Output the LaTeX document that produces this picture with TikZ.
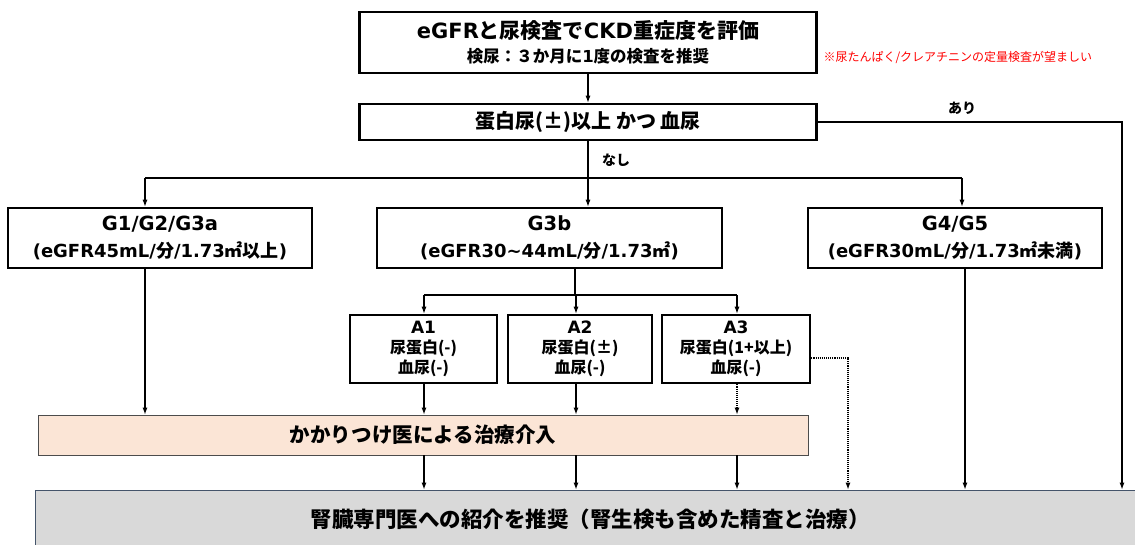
\documentclass[tikz,border=0pt]{standalone}
\usepackage{fontspec}
\setmainfont{Noto Sans CJK JP}
\newfontfamily\lt{DejaVu Sans}
\usetikzlibrary{arrows.meta}
\definecolor{peach}{HTML}{FBE5D6}
\definecolor{lgrey}{HTML}{D9D9D9}
\definecolor{bordgrey}{HTML}{44546A}
\begin{document}
\begin{tikzpicture}[x=1pt,y=-1pt,
  box/.style={draw, line width=2.6pt, align=center, inner sep=0pt},
  arr/.style={-{Latex[length=7pt,width=5pt]}, line width=1.1pt},
  ln/.style={line width=1.1pt},
  dotarr/.style={arr, densely dotted}]
\useasboundingbox (0,0) rectangle (1135,544);
% boxes
\node[box, minimum width=457pt, minimum height=61pt, font=\fontsize{16.5}{24}\selectfont\bfseries] (top) at (588,42.5)
  {{\fontsize{21}{24}\selectfont {\lt eGFR}と尿検査で{\lt CKD}重症度を評価}\\
   検尿：３か月に{\lt 1}度の検査を推奨};
\node[text=red, font=\fontsize{12}{14}\selectfont, anchor=west] (note) at (820,57)
  {※尿たんぱく/クレアチニンの定量検査が望ましい};
\node[box, minimum width=457pt, minimum height=36pt] (b2) at (588,122)
  {\fontsize{20}{24}\selectfont\bfseries 蛋白尿(±)以上 かつ 血尿};
\node[box, minimum width=304pt, minimum height=60pt, font=\fontsize{18}{27}\selectfont\bfseries] (g1) at (160,238)
  {{\lt\fontsize{19.5}{27}\selectfont G1/G2/G3a}\\
   {\lt (eGFR45mL/}分{\lt /1.73}㎡以上{\lt )}};
\node[box, minimum width=345pt, minimum height=60pt, font=\fontsize{18}{27}\selectfont\bfseries] (g3b) at (549.5,238)
  {{\lt\fontsize{19.5}{27}\selectfont G3b}\\
   {\lt (eGFR30\char"223C\relax 44mL/}分{\lt /1.73}㎡{\lt )}};
\node[box, minimum width=294pt, minimum height=60pt, font=\fontsize{18}{27}\selectfont\bfseries] (g4) at (955,238)
  {{\lt\fontsize{19.5}{27}\selectfont G4/G5}\\
   {\lt (eGFR30mL/}分{\lt /1.73}㎡未満{\lt )}};
\node[box, minimum width=147pt, minimum height=68pt, font=\fontsize{16}{20}\selectfont\bfseries] (a1) at (423.5,349)
  {{\lt\fontsize{17}{20}\selectfont A1}\\ 尿蛋白(-)\\ 血尿(-)};
\node[box, minimum width=144pt, minimum height=68pt, font=\fontsize{16}{20}\selectfont\bfseries] (a2) at (580,349)
  {{\lt\fontsize{17}{20}\selectfont A2}\\ 尿蛋白(±)\\ 血尿(-)};
\node[box, minimum width=148pt, minimum height=68pt, font=\fontsize{16}{20}\selectfont\bfseries] (a3) at (736,349)
  {{\lt\fontsize{17}{20}\selectfont A3}\\ 尿蛋白(1+以上)\\ 血尿(-)};
\node[draw=black!70, fill=peach, line width=0.8pt, minimum width=770pt, minimum height=40pt, inner sep=0pt] (kk) at (423,435)
  {\fontsize{20.5}{24}\selectfont\bfseries かかりつけ医による治療介入};
\node[draw=bordgrey, fill=lgrey, line width=0.8pt, minimum width=1110pt, minimum height=58pt, inner sep=0pt] (bot) at (590,519)
  {\fontsize{21.5}{26}\selectfont\bfseries 腎臓専門医への紹介を推奨（腎生検も含めた精査と治療）};
% labels
\node[font=\fontsize{14}{16}\selectfont\bfseries] (ari) at (962,108) {あり};
\node[font=\fontsize{14}{16}\selectfont\bfseries] (nashi) at (616,160) {なし};
% coordinates
\coordinate (j1) at (588,178);
\coordinate (bL) at (145,178);
\coordinate (bR) at (962,178);
\coordinate (ar) at (1122,122);
\coordinate (j2) at (575,295);
\coordinate (aL) at (424,295);
\coordinate (aM) at (576,295);
\coordinate (aR) at (737,295);
\coordinate (d1) at (848,358);
\coordinate (g4x) at (965,0);
% connectors
\draw[arr] (top.south) -- (b2.north);
\draw[ln] (b2.south) -- (j1);
\draw[ln] (bL) -- (bR);
\draw[arr] (bL) -- (bL |- g1.north);
\draw[arr] (j1) -- (j1 |- g3b.north);
\draw[arr] (bR) -- (bR |- g4.north);
\draw[arr] (b2.east) -- (ar) -- (ar |- bot.north);
\draw[arr] (g1.south -| bL) -- (kk.north -| bL);
\draw[ln] (g3b.south -| j2) -- (j2);
\draw[ln] (aL) -- (aR);
\draw[arr] (aL) -- (aL |- a1.north);
\draw[arr] (aM) -- (aM |- a2.north);
\draw[arr] (aR) -- (aR |- a3.north);
\draw[arr] (a1.south -| aL) -- (kk.north -| aL);
\draw[arr] (a2.south -| aM) -- (kk.north -| aM);
\draw[dotarr] (a3.south -| aR) -- (kk.north -| aR);
\draw[arr] (kk.south -| aL) -- (bot.north -| aL);
\draw[arr] (kk.south -| aM) -- (bot.north -| aM);
\draw[arr] (kk.south -| aR) -- (bot.north -| aR);
\draw[dotarr] (a3.east |- d1) -- (d1) -- (d1 |- bot.north);
\draw[arr] (g4.south -| g4x) -- (bot.north -| g4x);
\end{tikzpicture}
\end{document}
